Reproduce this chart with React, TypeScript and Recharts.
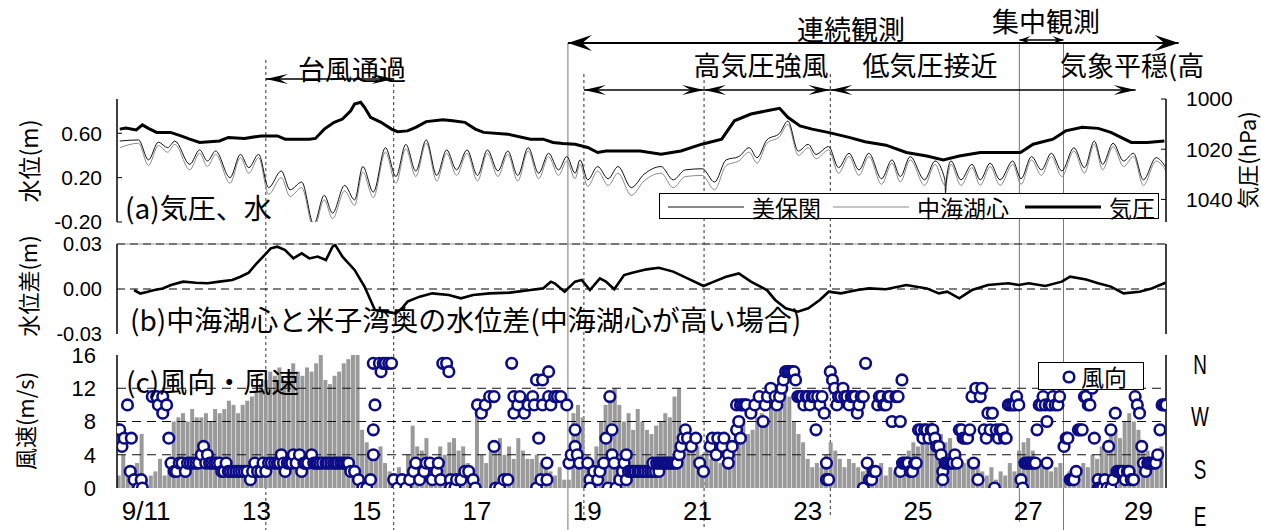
import React from 'react';
import { ComposedChart, Line, Bar, Scatter, XAxis, YAxis, ReferenceLine } from 'recharts';

const CHART_W = 1261;
const AXIS_L = 117;
const AXIS_R = 95;
const LATIN = "'Liberation Sans', Arial, sans-serif";
const JP = "'Noto Sans CJK JP', 'Liberation Sans', sans-serif";

// time axis in days of September
const X_DOMAIN: [number, number] = [10.47, 29.5];
const DAY_TICKS = [11, 13, 15, 17, 19, 21, 23, 25, 27, 29];
const dayLabel = (d: number) => (d === 11 ? '9/11' : String(d));
const MINOR_START = 10.49;
const MINOR_STEP = 0.7262;
const MINOR_TICKS = Array.from({ length: 26 }, (_, k) => MINOR_START + MINOR_STEP * (k + 1));

// (a) water level at Mihonoseki [day, m]
const MIHO: number[][] = [
  [10.52,0.53],[10.86,0.54],[11.04,0.36],[11.22,0.52],[11.39,0.47],[11.52,0.53],[11.79,0.32],[11.97,0.45],[12.11,0.35],[12.26,0.44],
  [12.52,0.20],[12.71,0.41],[12.86,0.29],[13.04,0.41],[13.22,0.11],[13.45,0.26],[13.61,0.09],[13.82,0.16],[14.04,-0.22],[14.23,0.04],
  [14.38,-0.12],[14.60,0.13],[14.78,0.0],[14.93,0.30],[15.12,0.07],[15.34,0.47],[15.53,0.21],[15.71,0.50],[15.89,0.26],[16.08,0.54],
  [16.27,0.22],[16.45,0.45],[16.63,0.27],[16.82,0.45],[17.01,0.22],[17.19,0.45],[17.38,0.26],[17.56,0.44],[17.74,0.22],[17.93,0.47],
  [18.12,0.24],[18.30,0.42],[18.48,0.27],[18.63,0.39],[18.78,0.24],[18.87,0.36],[19.01,0.18],[19.19,0.30],[19.38,0.19],[19.56,0.30],
  [19.80,0.11],[20.03,0.23],[20.34,0.30],[20.56,0.18],[20.78,0.27],[21.09,0.28],[21.31,0.16],[21.52,0.36],[21.75,0.39],[21.94,0.47],
  [22.08,0.38],[22.26,0.54],[22.49,0.60],[22.64,0.71],[22.83,0.44],[23.01,0.50],[23.15,0.41],[23.38,0.48],[23.56,0.29],[23.75,0.42],
  [23.93,0.27],[24.11,0.42],[24.34,0.19],[24.53,0.36],[24.68,0.21],[24.86,0.39],[25.12,0.18],[25.31,0.35],[25.49,0.18],[25.50,0.06],
  [25.52,0.20],[25.60,0.35],[25.78,0.18],[25.98,0.32],[26.13,0.18],[26.31,0.33],[26.49,0.18],[26.72,0.35],[26.87,0.19],[27.06,0.39],
  [27.24,0.27],[27.42,0.42],[27.61,0.26],[27.83,0.47],[28.02,0.29],[28.20,0.53],[28.35,0.32],[28.54,0.51],[28.73,0.35],[28.91,0.42],
  [29.09,0.18],[29.32,0.38],[29.50,0.29],
];

// (a) water level at lake centre of Nakaumi [day, m]
const NAKAUMI: number[][] = [
  [10.52,0.47],[10.86,0.51],[11.04,0.31],[11.22,0.49],[11.39,0.43],[11.52,0.50],[11.79,0.27],[11.97,0.42],[12.11,0.30],[12.26,0.41],
  [12.52,0.15],[12.71,0.38],[12.86,0.24],[13.04,0.38],[13.22,0.05],[13.45,0.20],[13.61,0.03],[13.82,0.11],[14.04,-0.26],[14.23,0.0],
  [14.38,-0.17],[14.60,0.08],[14.78,-0.05],[14.93,0.25],[15.12,0.02],[15.34,0.43],[15.53,0.15],[15.71,0.46],[15.89,0.21],[16.08,0.51],
  [16.27,0.17],[16.45,0.42],[16.63,0.22],[16.82,0.42],[17.01,0.17],[17.19,0.42],[17.38,0.21],[17.56,0.41],[17.74,0.17],[17.93,0.44],
  [18.12,0.19],[18.30,0.39],[18.48,0.22],[18.63,0.35],[18.78,0.19],[18.87,0.32],[19.01,0.12],[19.19,0.26],[19.38,0.13],[19.56,0.24],
  [19.80,0.04],[20.03,0.17],[20.34,0.24],[20.56,0.11],[20.78,0.21],[21.09,0.22],[21.31,0.09],[21.52,0.31],[21.75,0.35],[21.94,0.43],
  [22.08,0.33],[22.26,0.51],[22.49,0.57],[22.64,0.68],[22.83,0.40],[23.01,0.47],[23.15,0.37],[23.38,0.45],[23.56,0.24],[23.75,0.39],
  [23.93,0.22],[24.11,0.39],[24.34,0.14],[24.53,0.33],[24.68,0.16],[24.86,0.36],[25.12,0.13],[25.31,0.32],[25.49,0.13],[25.60,0.32],
  [25.78,0.13],[25.98,0.29],[26.13,0.13],[26.31,0.30],[26.49,0.13],[26.72,0.32],[26.87,0.14],[27.06,0.36],[27.24,0.22],[27.42,0.39],
  [27.61,0.21],[27.83,0.44],[28.02,0.24],[28.20,0.50],[28.35,0.27],[28.54,0.48],[28.73,0.30],[28.91,0.39],[29.09,0.13],[29.32,0.35],
  [29.50,0.26],
];

// (a) air pressure [day, hPa]
const PRESSURE: number[][] = [
  [10.52,1012],[10.63,1011.6],[10.82,1012.3],[10.93,1010.3],[11.04,1011.7],[11.19,1013.3],[11.44,1013.3],[11.63,1014.7],[11.79,1016],
  [11.97,1017.3],[12.33,1016.7],[12.49,1015.3],[12.78,1015.7],[13.08,1014.7],[13.38,1014.7],[13.52,1016],[13.96,1016],[14.07,1015.7],
  [14.23,1012],[14.41,1009.3],[14.56,1008],[14.71,1004.7],[14.78,1002],[14.89,1001.3],[14.96,1003.3],[15.07,1007.3],[15.26,1009.3],
  [15.45,1012],[15.56,1013],[15.74,1012.7],[15.89,1011.3],[16.08,1009],[16.38,1008.3],[16.56,1008.7],[16.78,1009.3],[16.97,1012],
  [17.12,1013.3],[17.56,1014],[17.97,1016],[18.20,1016],[18.38,1017.3],[18.56,1017.7],[18.78,1018],[19.01,1019.3],[19.19,1021.3],
  [19.34,1020.7],[19.59,1020.7],[19.96,1020.7],[20.34,1022],[20.70,1020.7],[21.08,1018],[21.44,1016],[21.67,1008.7],[21.97,1006],
  [22.26,1004.7],[22.49,1003.7],[22.64,1007.3],[22.86,1010.7],[23.08,1012],[23.37,1013.3],[23.75,1015.3],[24.04,1017],[24.42,1018.4],
  [24.79,1021.3],[25.16,1022.7],[25.46,1024.3],[25.75,1022.7],[26.13,1021.3],[26.86,1021.3],[27.09,1018],[27.45,1016],[27.68,1012.7],
  [27.98,1011.3],[28.27,1011.7],[28.50,1013.3],[28.87,1017.3],[29.16,1017.3],[29.47,1016.7],
];

// (b) level difference, lake centre minus Yonago bay head [day, m]
const LEVEL_DIFF: number[][] = [
  [10.78,-0.0007],[10.89,-0.003],[11.01,-0.002],[11.15,-0.0007],[11.30,0.0004],[11.45,0.0027],[11.67,0.0049],[11.90,0.0042],
  [12.11,0.0038],[12.33,0.0049],[12.56,0.006],[12.71,0.0082],[12.86,0.0109],[13.00,0.017],[13.15,0.0227],[13.26,0.0271],
  [13.38,0.0282],[13.52,0.026],[13.67,0.0204],[13.82,0.0238],[13.96,0.0204],[14.11,0.0216],[14.26,0.0193],[14.38,0.0282],
  [14.43,0.0293],[14.56,0.0216],[14.78,0.0127],[14.96,0.0016],[15.08,-0.0084],[15.15,-0.014],[15.34,-0.0151],[15.53,-0.0162],
  [15.64,-0.0129],[15.74,-0.0084],[15.96,-0.0051],[16.19,-0.0029],[16.49,-0.004],[16.71,-0.0062],[16.93,-0.004],[17.23,-0.0029],
  [17.60,-0.0024],[17.97,-0.0007],[18.20,0.0004],[18.34,0.0049],[18.41,0.0038],[18.59,-0.0018],[18.78,0.0049],[18.90,0.006],
  [19.05,-0.0007],[19.23,0.0071],[19.34,0.0049],[19.49,-0.0002],[19.67,0.0093],[19.82,0.0109],[20.08,0.0131],[20.30,0.0142],
  [20.56,0.0116],[20.82,0.0071],[21.11,0.002],[21.30,0.0049],[21.52,0.0082],[21.75,0.0104],[21.97,0.0049],[22.26,-0.0007],
  [22.41,-0.0073],[22.60,-0.0129],[22.82,-0.0151],[23.01,-0.0129],[23.22,-0.0073],[23.38,-0.0018],[23.60,-0.0029],[23.90,-0.0007],
  [24.11,0.0004],[24.42,-0.0002],[24.79,0.0027],[25.16,0.0004],[25.38,-0.0029],[25.53,-0.0018],[25.75,-0.0062],[25.98,-0.0007],
  [26.27,0.0027],[26.64,0.0038],[26.83,0.0027],[27.01,0.0038],[27.31,0.002],[27.61,0.0049],[27.76,0.0082],[28.05,0.0064],
  [28.27,0.0038],[28.50,0.0016],[28.73,-0.0029],[29.02,-0.0018],[29.24,0.0004],[29.49,0.0042],
];

// (c) wind speed, every 2 hours from 10 Sep 12:00 [m/s]
const WIND_START = 10.5;
const WIND_STEP = 1 / 12;
const WIND_SPEED: number[] = [
  1.5, 4, 2, 1.2, 3, 6.5,
  1, 1.5, 2, 3.5, 1.5, 2.5, 8, 8.5, 9, 8, 9.5, 8.5,
  8.5, 9, 8, 9.5, 9, 9.5, 10.5, 10, 9, 10, 10.5, 11,
  11.5, 12.5, 13, 14, 13.5, 14.5, 13, 14, 15, 14, 13.5, 14.5,
  14, 15, 16, 13, 12.5, 13.5, 14, 15, 15.5, 16, 16, 7,
  5.5, 4, 3.5, 5, 3, 2, 1.5, 2.5, 1.5, 4, 7.5, 5,
  4.5, 6, 3, 2.5, 5, 4, 5.5, 6, 4.5, 5, 3, 2.5,
  9.5, 4, 3, 4.5, 5, 6, 4, 5, 3.5, 6, 4.5, 3.5,
  3.5, 4, 3, 3.5, 2, 1.5, 2.5, 1, 1, 9, 10, 8.5,
  4, 3, 5, 8, 10, 11.5, 12, 10, 8, 9, 7, 9.5,
  8, 7, 6.5, 7.5, 8, 9, 8.5, 11, 12, 7, 6, 5.5,
  5, 4, 4.5, 3.5, 4, 3, 2.5, 3.5, 5, 6, 8, 6.5,
  7, 8.5, 9, 8, 9.5, 10.5, 12, 12.5, 11, 8, 6.5, 5.5,
  3.5, 2.5, 3, 2.5, 4, 5.5, 4.5, 3.5, 2.5, 3.5, 3, 2.5,
  2, 2.5, 1.5, 2, 3, 1.5, 2.5, 2, 3, 2.5, 4.5, 5.5,
  5, 6.5, 7, 8, 7.5, 6.5, 5.5, 6, 4.5, 4, 3, 3.5,
  2.5, 3.5, 2, 1.5, 2.5, 1, 2, 1.5, 3, 2, 4.5, 5.5,
  6, 4.5, 3, 2.5, 3, 2, 2.5, 3, 1.5, 2, 1, 2.5,
  3, 2.5, 4, 3.5, 5, 4.5, 6.5, 7, 6, 8, 9, 8,
  7, 5, 4.5, 3.5, 4, 5,
];

// (c) wind direction class, 16 points [day, class]
const WIND_DIR: number[][] = [
  [10.49,7],[10.52,7],[10.56,5],[10.60,6],[10.66,10],[10.73,6],[10.71,2],[10.78,1],[10.86,0],[10.91,1],[10.93,0],
  [11.11,11],[11.19,11],[11.22,10],[11.30,11],[11.30,9],[11.37,10],[11.41,6],[11.45,3],[11.51,2],[11.55,2],[11.60,3],[11.65,3],
  [11.71,2],[11.75,3],[11.80,3],[11.85,3],[11.90,3],[11.95,3],[12.00,4],[12.04,5],[12.08,3],[12.11,4],[12.15,3],[12.19,3],
  [12.24,3],[12.28,3],[12.33,3],[12.37,2],[12.41,2],[12.45,3],[12.49,2],[12.53,2],[12.58,2],[12.63,2],[12.68,2],[12.73,2],
  [12.78,2],[12.83,2],[12.89,1],[12.93,2],[12.97,3],[13.02,2],[13.08,2],[13.12,3],[13.17,2],[13.22,3],[13.27,3],[13.33,3],
  [13.38,3],[13.42,3],[13.45,4],[13.49,3],[13.52,2],[13.56,3],[13.60,3],[13.64,3],[13.67,4],[13.72,3],[13.78,4],[13.82,2],
  [13.86,3],[13.89,3],[13.93,3],[14.00,4],[14.04,3],[14.08,3],[14.11,3],[14.15,3],[14.20,3],[14.26,3],[14.30,3],[14.35,3],
  [14.40,3],[14.44,3],[14.48,3],[14.53,3],[14.57,3],[14.60,3],[14.64,3],[14.67,3],[14.71,2],[14.78,2],[14.85,1],[14.93,0],
  [15.00,0],[15.07,1],[15.12,15],[15.15,10],[15.12,7],[15.12,4],[15.23,15],[15.26,14],[15.30,15],[15.34,15],[15.40,15],[15.45,15],
  [15.49,1],[15.56,0],[15.64,1],[15.71,0],[15.78,1],[15.85,2],[15.89,3],[15.96,1],[16.04,2],[16.08,3],[16.15,3],[16.19,1],
  [16.27,2],[16.30,3],[16.34,1],[16.38,15],[16.45,15],[16.49,14],[16.52,1],[16.52,0],[16.60,0],[16.63,1],[16.71,1],[16.78,2],
  [16.85,2],[16.93,1],[16.97,0],[17.01,10],[17.08,9],[17.15,10],[17.23,11],[17.31,11],[17.31,5],[17.34,0],[17.41,0],[17.49,1],
  [17.56,1],[17.63,15],[17.67,11],[17.67,9],[17.74,10],[17.78,11],[17.86,9],[17.93,10],[18.01,11],[18.04,10],[18.08,0],[18.12,6],
  [18.16,1],[18.08,13],[18.19,13],[18.30,14],[18.27,3],[18.27,1],[18.19,10],[18.30,11],[18.34,10],[18.41,11],[18.46,11],[18.52,11],
  [18.63,10],[18.67,3],[18.71,4],[18.78,7],[18.78,5],[18.82,4],[18.86,3],[19.01,3],[19.05,1],[19.05,0],[19.12,2],[19.19,1],
  [19.23,2],[19.30,3],[19.34,6],[19.38,0],[19.41,11],[19.45,7],[19.45,4],[19.49,3],[19.52,0],[19.59,1],[19.64,2],[19.67,3],
  [19.71,4],[19.71,1],[19.75,2],[19.79,2],[19.83,2],[19.87,2],[19.92,2],[19.96,2],[20.01,2],[20.05,2],[20.10,2],[20.15,2],
  [20.19,2],[20.24,2],[20.30,2],[20.19,3],[20.26,3],[20.30,3],[20.34,3],[20.38,3],[20.41,3],[20.45,3],[20.48,3],[20.52,3],
  [20.56,3],[20.60,3],[20.63,3],[20.67,4],[20.70,5],[20.74,6],[20.78,7],[20.82,6],[20.89,5],[20.97,6],[21.04,3],[21.11,2],
  [21.23,5],[21.27,6],[21.34,4],[21.37,6],[21.45,5],[21.48,6],[21.56,4],[21.56,3],[21.63,5],[21.71,7],[21.75,8],[21.78,6],
  [21.71,10],[21.78,10],[21.82,10],[21.86,10],[21.89,10],[21.97,9],[22.04,10],[22.12,11],[22.19,8],[22.23,10],[22.27,11],[22.33,12],
  [22.41,11],[22.44,10],[22.49,11],[22.53,12],[22.56,13],[22.60,14],[22.64,14],[22.67,14],[22.71,14],[22.75,14],[22.78,13],[22.82,11],
  [22.86,11],[22.90,11],[22.93,10],[22.97,11],[23.01,11],[23.04,10],[23.08,11],[23.12,11],[23.15,7],[23.18,11],[23.22,10],[23.26,11],
  [23.30,9],[23.34,3],[23.34,1],[23.38,1],[23.41,14],[23.45,13],[23.49,12],[23.53,10],[23.56,11],[23.60,11],[23.64,12],[23.67,11],
  [23.71,11],[23.75,10],[23.79,11],[23.82,11],[23.86,11],[23.90,9],[23.93,10],[23.97,11],[24.01,11],[24.01,0],[24.05,15],[24.08,3],
  [24.12,1],[24.16,1],[24.19,2],[24.23,2],[24.27,10],[24.30,11],[24.34,11],[24.38,10],[24.42,10],[24.46,11],[24.49,11],[24.53,8],
  [24.60,11],[24.64,11],[24.68,8],[24.71,13],[24.68,2],[24.72,3],[24.75,3],[24.79,3],[24.82,3],[24.86,2],[24.90,2],[24.94,3],
  [24.97,3],[25.01,7],[25.05,7],[25.09,6],[25.12,7],[25.16,7],[25.20,6],[25.24,7],[25.27,7],[25.31,6],[25.34,5],[25.38,5],
  [25.42,4],[25.45,2],[25.45,1],[25.49,3],[25.53,3],[25.56,3],[25.60,3],[25.64,3],[25.67,4],[25.71,3],[25.75,7],[25.79,7],
  [25.82,6],[25.86,6],[25.90,6],[25.94,7],[25.98,11],[26.01,3],[26.05,12],[26.09,1],[26.13,11],[26.16,12],[26.20,7],[26.24,6],
  [26.27,9],[26.31,7],[26.35,9],[26.39,0],[26.42,7],[26.46,6],[26.49,7],[26.53,7],[26.57,6],[26.60,6],[26.64,10],[26.68,10],
  [26.72,10],[26.76,10],[26.79,11],[26.83,10],[26.87,1],[26.90,0],[26.94,3],[26.98,3],[27.01,3],[27.05,3],[27.09,3],[27.13,3],
  [27.16,7],[27.20,10],[27.24,10],[27.27,11],[27.31,10],[27.34,8],[27.34,3],[27.38,10],[27.42,10],[27.45,11],[27.49,10],[27.54,10],
  [27.57,11],[27.65,5],[27.69,6],[27.72,6],[27.76,1],[27.80,1],[27.83,1],[27.87,2],[27.91,7],[27.94,7],[27.98,7],[28.02,11],
  [28.05,11],[28.09,10],[28.12,10],[28.16,12],[28.20,6],[28.24,14],[28.27,1],[28.27,0],[28.31,0],[28.35,0],[28.39,1],[28.43,0],
  [28.46,5],[28.50,7],[28.50,0],[28.54,1],[28.58,9],[28.61,2],[28.65,2],[28.69,2],[28.72,2],[28.76,1],[28.80,2],[28.83,2],
  [28.87,1],[28.91,1],[28.94,11],[28.98,10],[29.02,9],[29.06,5],[29.09,3],[29.13,2],[29.17,3],[29.20,3],[29.24,3],[29.28,3],
  [29.31,3],[29.35,4],[29.39,7],[29.43,10],[29.47,10],[29.50,10],
];

// period markers: day, top and bottom of the guide line (px of the figure), dashed or solid
const GUIDES = [
  { t: 13.17, top: 60, bottom: 530, dashed: true },
  { t: 15.49, top: 60, bottom: 530, dashed: true },
  { t: 18.65, top: 43, bottom: 530, dashed: false },
  { t: 18.94, top: 74, bottom: 524, dashed: true },
  { t: 21.12, top: 74, bottom: 530, dashed: true },
  { t: 23.41, top: 74, bottom: 516, dashed: true },
  { t: 26.84, top: 43, bottom: 522, dashed: false },
  { t: 27.64, top: 43, bottom: 530, dashed: false },
];

// period arrows: start day, end day, row height (px), head size
const PERIODS = [
  { from: 13.17, to: 15.49, y: 79, size: 'm' },
  { from: 18.65, to: 29.73, y: 43, size: 'l' },
  { from: 26.84, to: 27.64, y: 40, size: 's' },
  { from: 18.94, to: 21.12, y: 90, size: 'm' },
  { from: 21.12, to: 23.41, y: 90, size: 'm' },
  { from: 23.41, to: 28.95, y: 90, size: 'm' },
];

const PERIOD_TEXT = [
  { text: '台風通過', x: 352, y: 68, anchor: 'middle' },
  { text: '連続観測', x: 851, y: 28, anchor: 'middle' },
  { text: '集中観測', x: 1046, y: 20, anchor: 'middle' },
  { text: '高気圧強風', x: 761, y: 64, anchor: 'middle' },
  { text: '低気圧接近', x: 930, y: 64, anchor: 'middle' },
  { text: '気象平穏(高', x: 1060, y: 64, anchor: 'start' },
];

const COMPASS = [
  { text: 'N', y: 365 },
  { text: 'W', y: 417 },
  { text: 'S', y: 470 },
  { text: 'E', y: 517 },
];

const toPts = (rows: number[][], key: string) => rows.map(([t, v]) => ({ t, [key]: v }));
const mihoData = toPts(MIHO, 'lv');
const nakaumiData = toPts(NAKAUMI, 'lv');
const pressureData = toPts(PRESSURE, 'p');
const diffData = toPts(LEVEL_DIFF, 'd');
const speedData = WIND_SPEED.map((ws, i) => ({ t: WIND_START + i * WIND_STEP, ws }));
const dirData = toPts(WIND_DIR, 'dir');

const BOX = { stroke: '#000', strokeWidth: 1.5 };
const TICK = { stroke: '#000', strokeWidth: 1 };
const blank = () => '';
const NAVY = '#0c0c86';
const BAR_GRAY = '#9a9a9a';
const BAR_W = 4;

const SIZES: Record<string, { len: number; half: number; w: number }> = {
  l: { len: 24, half: 8, w: 2 },
  m: { len: 22, half: 5, w: 1.6 },
  s: { len: 11, half: 4, w: 1.5 },
};

function ArrowShape(props: any) {
  const { x1, y1, x2, y2, size } = props;
  const s = SIZES[size] || SIZES.m;
  const head = (tx: number, ty: number, d: number) => {
    const bx = tx - d * s.len;
    const nx = tx - d * s.len * 0.6;
    return <polygon points={`${tx},${ty} ${bx},${ty - s.half} ${nx},${ty} ${bx},${ty + s.half}`} fill="#000" />;
  };
  return (
    <g>
      <line x1={x1} y1={y1} x2={x2} y2={y2} stroke="#000" strokeWidth={s.w} />
      {head(x1, y1, -1)}
      {head(x2, y2, 1)}
    </g>
  );
}

// each wind-speed bar keeps a fixed width, centred on its time
function SpeedBar(props: any) {
  const { x, y, width, height } = props;
  if (!height || height <= 0) return <g />;
  const cx = x + (width || 0) / 2;
  return <rect x={cx - BAR_W / 2} y={y} width={BAR_W} height={height} fill={BAR_GRAY} />;
}

function DirCircle(props: any) {
  const { cx, cy } = props;
  if (cx == null || cy == null) return <g />;
  return <circle cx={cx} cy={cy} r={5.3} fill="#fff" stroke={NAVY} strokeWidth={2.6} />;
}

function Overlay() {
  return (
    <ComposedChart
      width={CHART_W}
      height={530}
      data={GUIDES.map((g) => ({ t: g.t }))}
      margin={{ top: 0, right: AXIS_R, bottom: 0, left: AXIS_L }}
    >
      <XAxis dataKey="t" type="number" domain={X_DOMAIN} allowDataOverflow hide />
      <YAxis type="number" domain={[0, 530]} reversed allowDataOverflow hide />
      {GUIDES.map((g, i) => (
        <ReferenceLine
          key={`g${i}`}
          segment={[{ x: g.t, y: g.top }, { x: g.t, y: g.bottom }]}
          stroke={g.dashed ? '#333' : '#777'}
          strokeWidth={1}
          strokeDasharray={g.dashed ? '3 3' : undefined}
          ifOverflow="visible"
        />
      ))}
      {PERIODS.map((p, i) => (
        <ReferenceLine
          key={`p${i}`}
          segment={[{ x: p.from, y: p.y }, { x: p.to, y: p.y }]}
          ifOverflow="visible"
          shape={(sp: any) => <ArrowShape {...sp} size={p.size} />}
        />
      ))}
    </ComposedChart>
  );
}

function PanelA() {
  return (
    <ComposedChart width={CHART_W} height={165} margin={{ top: 19, right: 0, bottom: 23, left: 0 }}>
      <XAxis xAxisId="t" dataKey="t" type="number" domain={X_DOMAIN} allowDataOverflow ticks={MINOR_TICKS}
        interval={0} tickSize={-5} tickFormatter={blank} height={0} axisLine={BOX} tickLine={TICK} />
      <XAxis xAxisId="top" orientation="top" dataKey="t" type="number" domain={X_DOMAIN} allowDataOverflow
        height={0} tick={false} tickLine={false} axisLine={BOX} />
      <YAxis yAxisId="lv" type="number" domain={[-0.2, 0.909]} allowDataOverflow ticks={[-0.2, 0.2, 0.6]} interval={0}
        tickFormatter={(v: number) => v.toFixed(2)} width={AXIS_L} tickSize={-5} tickMargin={20}
        axisLine={BOX} tickLine={TICK} tick={{ fill: '#000', fontSize: 21, fontFamily: LATIN }} />
      <YAxis yAxisId="hpa" orientation="right" type="number" reversed domain={[1000, 1049]} allowDataOverflow
        ticks={[1000, 1020, 1040]} interval={0} width={AXIS_R} tickSize={-5} tickMargin={25}
        axisLine={BOX} tickLine={TICK} tick={{ fill: '#000', fontSize: 21, fontFamily: LATIN }} />
      <Line xAxisId="t" yAxisId="lv" data={nakaumiData} dataKey="lv" type="monotone" stroke="#8a8a8a"
        strokeWidth={1} dot={false} isAnimationActive={false} />
      <Line xAxisId="t" yAxisId="lv" data={mihoData} dataKey="lv" type="monotone" stroke="#111"
        strokeWidth={1} dot={false} isAnimationActive={false} />
      <Line xAxisId="t" yAxisId="hpa" data={pressureData} dataKey="p" type="linear" stroke="#000"
        strokeWidth={3} dot={false} isAnimationActive={false} />
    </ComposedChart>
  );
}

function PanelB() {
  return (
    <ComposedChart width={CHART_W} height={130} margin={{ top: 24, right: 0, bottom: 16, left: 0 }}>
      <XAxis xAxisId="t" dataKey="t" type="number" domain={X_DOMAIN} allowDataOverflow ticks={MINOR_TICKS}
        interval={0} tickSize={-5} tickFormatter={blank} height={0} axisLine={BOX} tickLine={TICK} />
      <YAxis yAxisId="d" type="number" domain={[-0.03, 0.03]} allowDataOverflow ticks={[-0.03, 0, 0.03]} interval={0}
        tickFormatter={(v: number) => v.toFixed(2)} width={AXIS_L} tickSize={-5} tickMargin={20}
        axisLine={BOX} tickLine={false} tick={{ fill: '#000', fontSize: 20, fontFamily: LATIN }} />
      <YAxis yAxisId="r" orientation="right" type="number" domain={[-0.03, 0.03]} width={AXIS_R}
        tick={false} tickLine={false} axisLine={BOX} />
      <ReferenceLine xAxisId="t" yAxisId="d" y={0.03} stroke="#999" strokeWidth={1.2} />
      <ReferenceLine xAxisId="t" yAxisId="d" y={0.03} stroke="#222" strokeWidth={1.2} strokeDasharray="8 5" />
      <ReferenceLine xAxisId="t" yAxisId="d" y={0} stroke="#000" strokeWidth={1} strokeDasharray="8 5" />
      <Line xAxisId="t" yAxisId="d" data={diffData} dataKey="d" type="linear" stroke="#000"
        strokeWidth={2.6} dot={false} isAnimationActive={false} />
    </ComposedChart>
  );
}

function PanelC() {
  return (
    <ComposedChart width={CHART_W} height={195} data={speedData} margin={{ top: 20, right: 0, bottom: 12, left: 0 }}>
      <XAxis xAxisId="t" dataKey="t" type="number" domain={X_DOMAIN} allowDataOverflow ticks={MINOR_TICKS}
        interval={0} tickSize={-5} tickFormatter={blank} height={0} axisLine={{ stroke: '#000', strokeWidth: 2 }} tickLine={TICK} />
      <XAxis xAxisId="day" dataKey="t" type="number" domain={X_DOMAIN} allowDataOverflow ticks={DAY_TICKS}
        interval={0} tickFormatter={dayLabel} height={30} tickSize={0} tickMargin={14} axisLine={false} tickLine={false}
        tick={{ fill: '#000', fontSize: 26, fontFamily: LATIN }} />
      <XAxis xAxisId="top" orientation="top" dataKey="t" type="number" domain={X_DOMAIN} allowDataOverflow
        height={0} tick={false} tickLine={false} axisLine={BOX} />
      <YAxis yAxisId="ws" type="number" domain={[0, 16]} allowDataOverflow ticks={[0, 4, 8, 12, 16]} interval={0}
        width={AXIS_L} tickSize={-5} tickMargin={26} axisLine={BOX} tickLine={false}
        tick={{ fill: '#000', fontSize: 22, fontFamily: LATIN }} />
      <YAxis yAxisId="r" orientation="right" type="number" domain={[0, 16]} width={AXIS_R}
        tick={false} tickLine={false} axisLine={BOX} />
      <Bar xAxisId="t" yAxisId="ws" dataKey="ws" fill={BAR_GRAY} shape={SpeedBar} isAnimationActive={false} />
      {[4, 8, 12].map((v) => (
        <ReferenceLine key={v} xAxisId="t" yAxisId="ws" y={v} stroke="#111" strokeWidth={1} strokeDasharray="9 6" />
      ))}
      <Scatter xAxisId="t" yAxisId="ws" data={dirData} dataKey="dir" shape={DirCircle} isAnimationActive={false} />
    </ComposedChart>
  );
}

const abs = (extra: React.CSSProperties): React.CSSProperties => ({ position: 'absolute', ...extra });

function AxisTitle({ text, x, y, size }: { text: string; x: number; y: number; size: number }) {
  return (
    <div style={abs({ left: x, top: y, transform: 'translate(-50%, -50%) rotate(-90deg)', fontSize: size,
      fontFamily: JP, whiteSpace: 'nowrap', lineHeight: 1 })}>{text}</div>
  );
}

function LegendA() {
  const item = (stroke: string, w: number, label: string, lineLeft: number, textLeft: number) => (
    <>
      <svg style={abs({ left: lineLeft - 659, top: 0 })} width={76} height={26}>
        <line x1={0} y1={13} x2={76} y2={13} stroke={stroke} strokeWidth={w} />
      </svg>
      <span style={abs({ left: textLeft - 659, top: 0, lineHeight: '26px' })}>{label}</span>
    </>
  );
  return (
    <div style={abs({ left: 659, top: 193, width: 500, height: 26, border: '1px solid #000', background: '#fff',
      fontFamily: JP, fontSize: 23, boxSizing: 'border-box' })}>
      {item('#111', 1, '美保関', 667, 751)}
      {item('#8a8a8a', 1, '中海湖心', 832, 916)}
      {item('#000', 3, '気圧', 1024, 1108)}
    </div>
  );
}

function LegendC() {
  return (
    <div style={abs({ left: 1038, top: 362, width: 106, height: 28, border: '1px solid #000', background: '#fff',
      fontFamily: JP, fontSize: 23, boxSizing: 'border-box' })}>
      <svg style={abs({ left: 22, top: 6 })} width={16} height={16}>
        <circle cx={8} cy={8} r={5.3} fill="#fff" stroke={NAVY} strokeWidth={2.6} />
      </svg>
      <span style={abs({ left: 42, top: 0, lineHeight: '26px' })}>風向</span>
    </div>
  );
}

export default function App() {
  return (
    <div style={abs({ left: 0, top: 0, width: CHART_W, height: 530, background: '#fff', overflow: 'hidden', color: '#000' })}>
      <div style={abs({ left: 0, top: 0 })}><Overlay /></div>
      <div style={abs({ left: 0, top: 80 })}><PanelA /></div>
      <div style={abs({ left: 0, top: 220 })}><PanelB /></div>
      <div style={abs({ left: 0, top: 335 })}><PanelC /></div>

      {PERIOD_TEXT.map((p) => (
        <div key={p.text} style={abs({ left: p.x, top: p.y, fontSize: 27, fontFamily: JP, lineHeight: 1, whiteSpace: 'nowrap',
          transform: p.anchor === 'middle' ? 'translate(-50%, -50%)' : 'translate(0, -50%)' })}>{p.text}</div>
      ))}

      <div style={abs({ left: 125, top: 207, transform: 'translate(0,-50%)', fontSize: 28, fontFamily: JP, lineHeight: 1, whiteSpace: 'nowrap' })}>(a)気圧、水</div>
      <div style={abs({ left: 130, top: 319, transform: 'translate(0,-50%)', fontSize: 28, fontFamily: JP, lineHeight: 1, whiteSpace: 'nowrap' })}>(b)中海湖心と米子湾奥の水位差(中海湖心が高い場合)</div>
      <div style={abs({ left: 126, top: 381, transform: 'translate(0,-50%)', fontSize: 28, fontFamily: JP, lineHeight: 1, whiteSpace: 'nowrap' })}>(c)風向・風速</div>

      <LegendA />
      <LegendC />

      <AxisTitle text="水位(m)" x={28} y={161} size={23} />
      <AxisTitle text="水位差(m)" x={27} y={286} size={22} />
      <AxisTitle text="風速(m/s)" x={24} y={421} size={22} />
      <AxisTitle text="気圧(hPa)" x={1246} y={160} size={22} />

      {COMPASS.map((c) => (
        <div key={c.text} style={abs({ left: 1200, top: c.y, transform: 'translate(-50%,-50%) scaleX(0.7)', fontSize: 27,
          fontFamily: LATIN, lineHeight: 1 })}>{c.text}</div>
      ))}
    </div>
  );
}
